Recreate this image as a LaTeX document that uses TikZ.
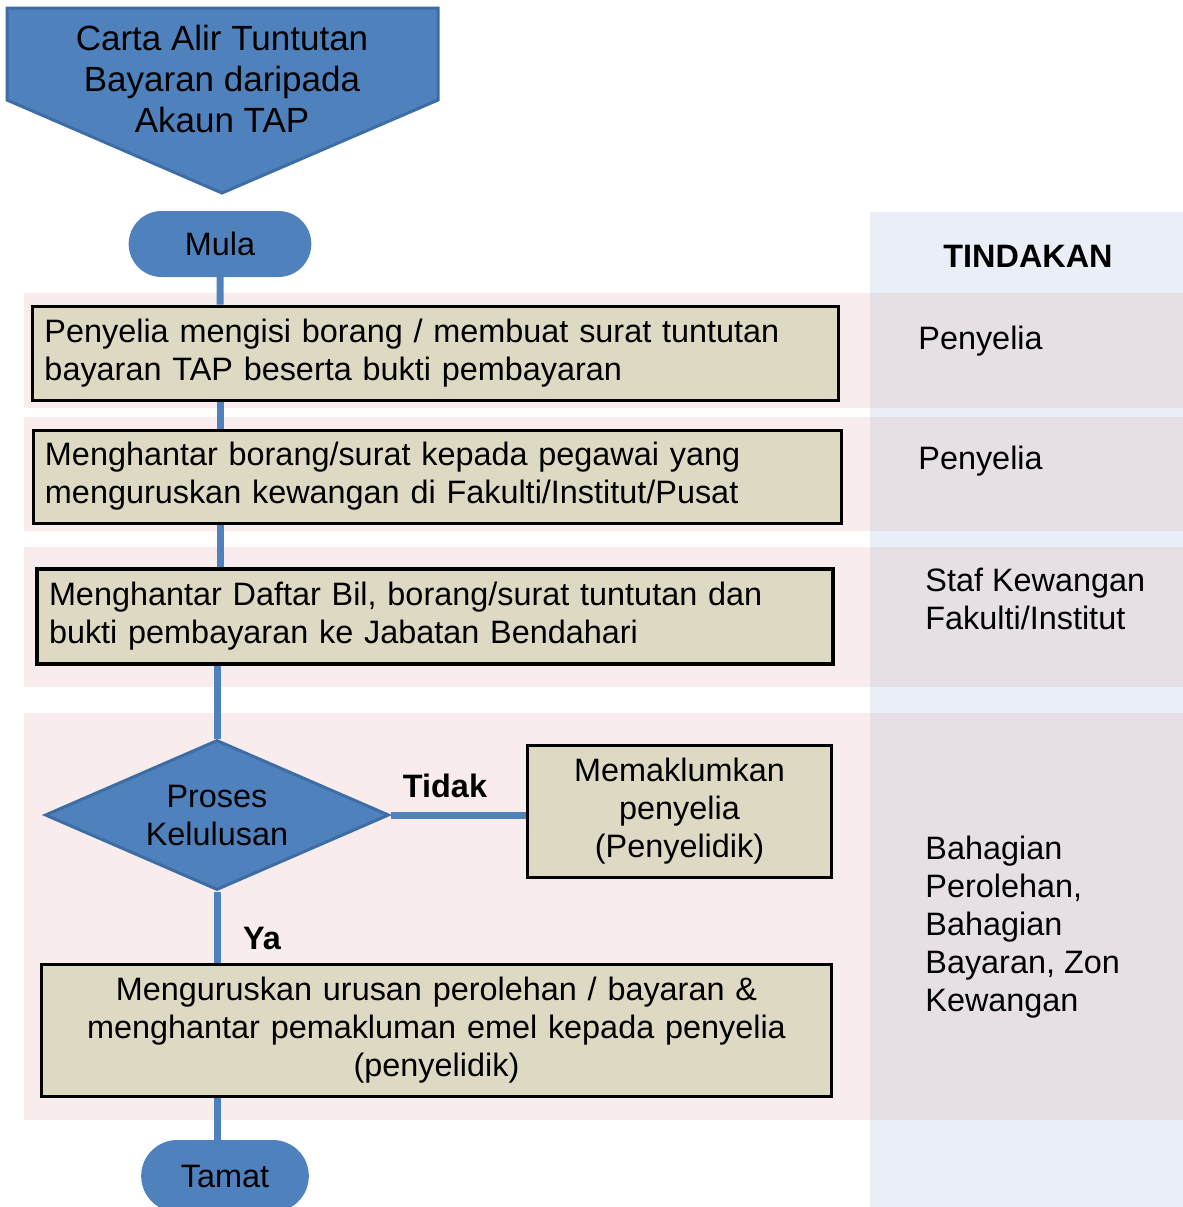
\documentclass[tikz,border=0pt]{standalone}
\usepackage{fontspec}
\setmainfont{Liberation Sans}
\usepackage{tikz}
\usetikzlibrary{shapes,shapes.geometric,shapes.misc}
\definecolor{flowblue}{HTML}{4F81BD}
\definecolor{edgeblue}{HTML}{3E6DA5}
\definecolor{boxtan}{HTML}{DDD9C3}
\definecolor{bandpink}{HTML}{F8ECEC}
\definecolor{bandmauve}{HTML}{E6E0E6}
\definecolor{collight}{HTML}{EAEFF7}
\tikzstyle{term}=[rounded rectangle, fill=flowblue, draw=flowblue,% ends fully round
line width=1pt, font=\fontsize{16.2}{19}\selectfont]
\tikzstyle{procbox}=[rectangle, draw=black, fill=boxtan, line width=1.5pt,
inner xsep=6pt, inner ysep=0pt, font=\fontsize{16.2}{19}\selectfont]
\tikzstyle{decide}=[diamond, aspect=2.3, inner sep=0pt, fill=flowblue, draw=edgeblue, line width=1.5pt,
minimum width=172pt, minimum height=75pt, align=center, font=\fontsize{16.2}{19}\selectfont]
\tikzstyle{flow}=[-, draw=flowblue, line width=3.5pt]
\tikzstyle{note}=[inner sep=0pt, align=left, font=\fontsize{16.2}{19}\selectfont]
\tikzstyle{yesno}=[inner sep=0pt, font=\fontsize{16.2}{19}\selectfont\bfseries]

\begin{document}
\begin{tikzpicture}[x=0.5pt,y=-0.5pt]
\useasboundingbox (0,0) rectangle (1183,1207);
% right column and row bands
\fill[collight] (870,212) rectangle (1183,1207);
\foreach \top/\bot in {293/408,417/531,547/687,713/1120}{
  \fill[bandpink] (24,\top) rectangle (870,\bot);
  \fill[bandmauve] (870,\top) rectangle (1183,\bot);
}
% title
\filldraw[fill=flowblue, draw=edgeblue, line width=1.5pt]
  (7,8) -- (438,8) -- (438,100) -- (222,193) -- (7,100) -- cycle;
\node[align=center, font=\fontsize{17.5}{20.5}\selectfont] (title) at (222,79)
  {Carta Alir Tuntutan\\Bayaran daripada\\Akaun TAP};

\node[term, minimum width=97pt, minimum height=32pt] (mula) at (220,244) {Mula};
\node[procbox, text width=391pt, align=left, minimum height=47pt] (box1) at (435.5,353)
  {Penyelia mengisi borang / membuat surat tuntutan\\bayaran TAP beserta bukti pembayaran};
\node[procbox, text width=392pt, align=left, minimum height=46.5pt] (box2) at (437,476.5)
  {Menghantar borang/surat kepada pegawai yang\\menguruskan kewangan di Fakulti/Institut/Pusat};
\node[procbox, line width=2pt, text width=386pt, align=left, minimum height=47.5pt] (box3) at (435,616.5)
  {Menghantar Daftar Bil, borang/surat tuntutan dan\\bukti pembayaran ke Jabatan Bendahari};
\node[decide] (dec) at (217,815) {Proses\\Kelulusan};
\node[procbox, text width=140pt, align=center, minimum height=66pt] (inform) at (679.5,811)
  {Memaklumkan\\penyelia\\(Penyelidik)};
\node[procbox, text width=383pt, align=center, minimum height=66pt] (box5) at (436.5,1030)
  {Menguruskan urusan perolehan / bayaran \&\\menghantar pemakluman emel kepada penyelia\\(penyelidik)};
\node[term, minimum width=89.5pt, minimum height=35pt] (tamat) at (225,1176) {Tamat};

% connectors
\draw[flow] (mula) -- (mula |- box1.north);
\draw[flow] (mula |- box1.south) -- (mula |- box2.north);
\draw[flow] (mula |- box2.south) -- (mula |- box3.north);
\draw[flow] (dec |- box3.south) -- (dec.north);
\draw[flow] (dec.south) -- (dec |- box5.north);
\draw[flow] (dec |- box5.south) -- (dec |- tamat.north);
\draw[flow] (dec.east) -- (dec.east -| inform.west);
\node[yesno] (tidak) at (445,786) {Tidak};
\node[yesno] (ya) at (262,938) {Ya};

% tindakan column
\node[yesno] (tindakan) at (1028,256) {TINDAKAN};
\node[note, anchor=base west] (act1) at (918,349) {Penyelia};
\node[note, anchor=base west] (act2) at (918,469) {Penyelia};
\node[note, anchor=west] (act3) at (925,599) {Staf Kewangan\\Fakulti/Institut};
\node[note, anchor=west] (act4) at (925,927) {Bahagian\\Perolehan,\\Bahagian\\Bayaran, Zon\\Kewangan};
\end{tikzpicture}
\end{document}
